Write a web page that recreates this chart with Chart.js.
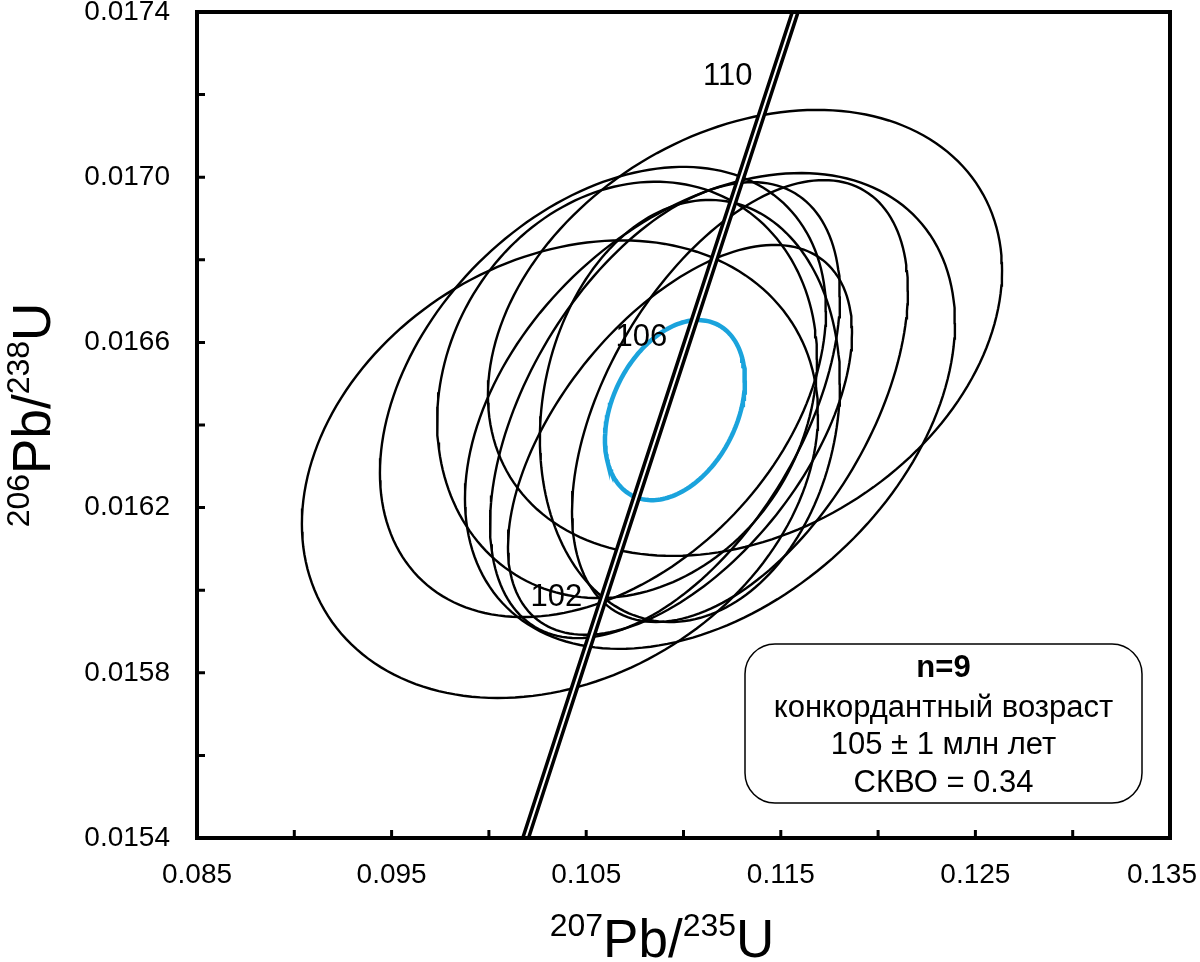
<!DOCTYPE html>
<html>
<head>
<meta charset="utf-8">
<script src="https://cdn.jsdelivr.net/npm/chart.js@4.4.1/dist/chart.umd.min.js"></script>
<style>
  body { margin: 0; background: #fff; }
</style>
</head>
<body>
<canvas id="myChart" width="1200" height="962"></canvas>
<script>
// analyses: 207Pb/235U, 206Pb/238U, 2 sigma errors, error correlation
const pb207u235 = [0.10365, 0.11316, 0.11136, 0.10586, 0.11290, 0.10982, 0.10905, 0.11033, 0.10710];
const pb207u235Err = [0.01326, 0.01321, 0.01259, 0.01146, 0.00863, 0.00884, 0.00899, 0.00771, 0.00976];
const pb206u238 = [0.016293, 0.016623, 0.016434, 0.016480, 0.016458, 0.016364, 0.016436, 0.016434, 0.016485];
const pb206u238Err = [0.000554, 0.000540, 0.000576, 0.000545, 0.000535, 0.000472, 0.000552, 0.000511, 0.000504];
const errCorr = [0.24, 0.28, 0.37, 0.36, 0.50, 0.55, 0.50, 0.13, 0.15];

// concordia age ellipse
const concAge = { x: 0.10956, xErr: 0.003597, y: 0.016436, yErr: 0.000218, rho: 0.33 };

// concordia curve, ages in Ma
const concordiaAges = [98, 99, 100, 101, 102, 103, 104, 105, 106, 107, 108, 109, 110, 111, 112];
const ageLabels = [102, 106, 110];
const lambda238 = 1.55125e-4; // 1/Ma
const lambda235 = 9.8485e-4;

const xTicks = [0.085, 0.090, 0.095, 0.100, 0.105, 0.110, 0.115, 0.120, 0.125, 0.130, 0.135];
const xTickLabels = ['0.085', '', '0.095', '', '0.105', '', '0.115', '', '0.125', '', '0.135'];
const yTicks = [0.0154, 0.0156, 0.0158, 0.0160, 0.0162, 0.0164, 0.0166, 0.0168, 0.0170, 0.0172, 0.0174];
const yTickLabels = ['0.0154', '', '0.0158', '', '0.0162', '', '0.0166', '', '0.0170', '', '0.0174'];

const FONT = '"Liberation Sans", Arial, sans-serif';

function concordiaPoint(t) {
  return { x: Math.exp(lambda235 * t) - 1, y: Math.exp(lambda238 * t) - 1 };
}

function ellipsePoints(cx, sx, cy, sy, r) {
  const pts = [];
  const k = Math.sqrt(1 - r * r);
  for (let i = 0; i <= 180; i++) {
    const t = i / 180 * Math.PI * 2;
    pts.push({ x: cx + sx * Math.cos(t), y: cy + sy * (r * Math.cos(t) + k * Math.sin(t)) });
  }
  return pts;
}

const concordiaData = concordiaAges.map(concordiaPoint);

const datasets = [
  { data: concordiaData, borderColor: '#fff', borderWidth: 2, order: 0 },
  { data: concordiaData, borderColor: '#000', borderWidth: 9, order: 1 },
  { data: ellipsePoints(concAge.x, concAge.xErr, concAge.y, concAge.yErr, concAge.rho),
    borderColor: '#1aa3dc', borderWidth: 4.5, order: 2 }
];
pb207u235.forEach(function(x, i) {
  datasets.push({
    data: ellipsePoints(x, pb207u235Err[i], pb206u238[i], pb206u238Err[i], errCorr[i]),
    borderColor: '#000', borderWidth: 2.4, order: 3
  });
});
datasets.forEach(function(d) {
  d.showLine = true;
  d.pointRadius = 0;
  d.fill = false;
  d.clip = 0;
});

function drawLabel(ctx, parts, cx, baseline) {
  // parts: [text, isSup]
  let total = 0;
  parts.forEach(function(p) {
    ctx.font = (p[1] ? '32px ' : '53px ') + FONT;
    total += ctx.measureText(p[0]).width;
  });
  let x = cx - total / 2;
  parts.forEach(function(p) {
    ctx.font = (p[1] ? '32px ' : '53px ') + FONT;
    ctx.fillText(p[0], x, p[1] ? baseline - 21 : baseline);
    x += ctx.measureText(p[0]).width;
  });
}

const decorPlugin = {
  id: 'decor',
  afterDraw: function(chart) {
    const ctx = chart.ctx;
    const a = chart.chartArea;
    const xs = chart.scales.x;
    const ys = chart.scales.y;
    ctx.save();
    ctx.fillStyle = '#000';
    ctx.strokeStyle = '#000';

    // frame
    ctx.lineWidth = 4;
    ctx.strokeRect(a.left, a.top, a.right - a.left, a.bottom - a.top);

    // inward tick marks
    ctx.lineWidth = 3;
    ctx.beginPath();
    xTicks.slice(1, -1).forEach(function(v) {
      const px = xs.getPixelForValue(v);
      ctx.moveTo(px, a.bottom);
      ctx.lineTo(px, a.bottom - 8);
    });
    yTicks.slice(1, -1).forEach(function(v) {
      const py = ys.getPixelForValue(v);
      ctx.moveTo(a.left, py);
      ctx.lineTo(a.left + 8, py);
    });
    ctx.stroke();

    // tick labels
    ctx.font = '28px ' + FONT;
    ctx.textAlign = 'center';
    ctx.textBaseline = 'alphabetic';
    xTicks.forEach(function(v, i) {
      if (!xTickLabels[i]) return;
      const w = ctx.measureText(xTickLabels[i]).width;
      const px = Math.min(xs.getPixelForValue(v), chart.width - 3 - w / 2);
      ctx.fillText(xTickLabels[i], px, a.bottom + 45);
    });
    ctx.textAlign = 'right';
    ctx.textBaseline = 'middle';
    yTicks.forEach(function(v, i) {
      if (yTickLabels[i]) ctx.fillText(yTickLabels[i], a.left - 27, ys.getPixelForValue(v));
    });

    // concordia age labels
    ctx.font = '31px ' + FONT;
    ctx.textAlign = 'right';
    ctx.textBaseline = 'alphabetic';
    ageLabels.forEach(function(t) {
      const p = concordiaPoint(t);
      ctx.fillText(String(t), xs.getPixelForValue(p.x) - 17, ys.getPixelForValue(p.y) - 5);
    });

    // axis titles
    ctx.textAlign = 'left';
    drawLabel(ctx, [['207', true], ['Pb/', false], ['235', true], ['U', false]], 662, 957);
    ctx.save();
    ctx.translate(50, 415);
    ctx.rotate(-Math.PI / 2);
    drawLabel(ctx, [['206', true], ['Pb/', false], ['238', true], ['U', false]], 0, 0);
    ctx.restore();

    // result box
    ctx.lineWidth = 1.5;
    ctx.beginPath();
    ctx.roundRect(745, 644, 397, 159, 30);
    ctx.fillStyle = '#fff';
    ctx.fill();
    ctx.stroke();
    ctx.fillStyle = '#000';
    ctx.textAlign = 'center';
    const bx = 943.5;
    ctx.font = 'bold 31px ' + FONT;
    ctx.fillText('n=9', bx, 677);
    ctx.font = '31px ' + FONT;
    ctx.fillText('конкордантный возраст', bx, 717);
    ctx.fillText('105 ± 1 млн лет', bx, 754);
    ctx.fillText('СКВО = 0.34', bx, 792);
    ctx.restore();
  }
};

new Chart(document.getElementById('myChart'), {
  type: 'scatter',
  data: { datasets: datasets },
  options: {
    responsive: false,
    devicePixelRatio: 1,
    animation: false,
    layout: { padding: { top: 12, right: 30, left: 0, bottom: 0 } },
    plugins: {
      legend: { display: false },
      tooltip: { enabled: false }
    },
    elements: { line: { tension: 0 } },
    scales: {
      x: {
        type: 'linear',
        min: 0.085,
        max: 0.135,
        afterBuildTicks: function(scale) {
          scale.ticks = xTicks.map(function(v) { return { value: v }; });
        },
        afterFit: function(scale) { scale.height = 124; },
        grid: { display: false, drawTicks: false },
        border: { display: false },
        ticks: { display: false }
      },
      y: {
        type: 'linear',
        min: 0.0154,
        max: 0.0174,
        afterBuildTicks: function(scale) {
          scale.ticks = yTicks.map(function(v) { return { value: v }; });
        },
        afterFit: function(scale) { scale.width = 197; },
        grid: { display: false, drawTicks: false },
        border: { display: false },
        ticks: { display: false }
      }
    }
  },
  plugins: [decorPlugin]
});
</script>
</body>
</html>
